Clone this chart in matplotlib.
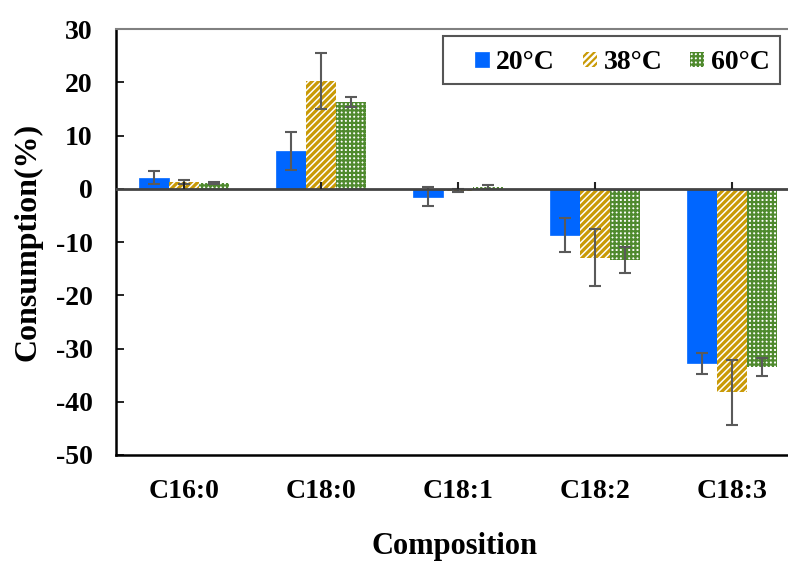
import numpy as np
import matplotlib.pyplot as plt
from matplotlib.markers import TICKUP
from matplotlib.patches import Rectangle

# -----------------------------
# Data
# -----------------------------

compositions = ["C16:0", "C18:0", "C18:1", "C18:2", "C18:3"]
temps = ["20°C", "38°C", "60°C"]

mean_20 = [2.1, 7.1, -1.45, -8.7, -32.8]
err_20 = [1.2, 3.6, 1.85, 3.2, 1.9]

mean_38 = [1.35, 20.3, -0.35, -12.9, -38.2]
err_38 = [0.4, 5.3, 0.3, 5.4, 6.1]

mean_60 = [1.05, 16.3, 0.35, -13.4, -33.5]
err_60 = [0.2, 1.0, 0.4, 2.4, 1.7]

y_ticks = [30, 20, 10, 0, -10, -20, -30, -40, -50]

# -----------------------------
# Style
# -----------------------------

plt.rcParams["font.family"] = ["Liberation Serif", "DejaVu Serif"]
plt.rcParams["font.weight"] = "bold"

BLUE = "#0066ff"
GOLD = "#c99a06"
GREEN = "#4f8a2e"
ERR = "#5a5a5a"

fig = plt.figure(figsize=(7.88, 5.61), dpi=100)
ax = fig.add_axes([0.1472, 0.189, 0.869, 0.759])

x = np.arange(len(compositions))
w = 0.219
err_kw = dict(ecolor=ERR, elinewidth=1.5, capsize=4.5, capthick=1.5)


def set_hatch_lw(bars, lw):
    for p in bars.patches:
        if hasattr(p, "set_hatch_linewidth"):
            p.set_hatch_linewidth(lw)


# -----------------------------
# Bars
# -----------------------------

b1 = ax.bar(x - w, mean_20, w, color=BLUE, edgecolor=BLUE, linewidth=0.5,
            yerr=err_20, error_kw=err_kw, label=temps[0], zorder=2)

plt.rcParams["hatch.linewidth"] = 2.3
b2 = ax.bar(x, mean_38, w, color="white", edgecolor=GOLD, hatch="/////",
            linewidth=0, yerr=err_38, error_kw=err_kw, label=temps[1], zorder=2)
set_hatch_lw(b2, 2.3)

plt.rcParams["hatch.linewidth"] = 1.6
b3 = ax.bar(x + w, mean_60, w, color="white", edgecolor=GREEN, hatch="++++",
            linewidth=0, yerr=err_60, error_kw=err_kw, label=temps[2], zorder=2)
set_hatch_lw(b3, 1.6)

# zero line with small upward ticks at each category
ax.axhline(0, color="#444444", linewidth=2, zorder=3)
ax.plot(x, np.zeros(len(x)), linestyle="none", marker=TICKUP, markersize=5,
        markeredgewidth=1.5, color="#222222", zorder=3)

# -----------------------------
# Axes
# -----------------------------

ax.set_xlim(-0.5, len(compositions) - 0.5)
ax.set_ylim(-50, 30)
ax.set_yticks(y_ticks)
ax.set_yticklabels([str(t) for t in y_ticks])
ax.set_xticks(x)
ax.set_xticklabels(compositions)

ax.tick_params(axis="y", direction="in", length=6, width=1.2, pad=17,
               labelsize=20)
ax.tick_params(axis="x", length=0, pad=17, labelsize=20)

for lbl in ax.get_xticklabels() + ax.get_yticklabels():
    lbl.set_fontweight("bold")

ax.spines["right"].set_visible(False)
ax.spines["top"].set_color("#808080")
ax.spines["top"].set_linewidth(1.5)
ax.spines["left"].set_linewidth(1.8)
ax.spines["bottom"].set_linewidth(1.8)

ax.set_ylabel("Consumption(%)", fontsize=23, fontweight="bold")
ax.yaxis.set_label_coords(-0.107, 0.5)
ax.set_xlabel("Composition", fontsize=22, fontweight="bold")
ax.xaxis.set_label_coords((455 - 116) / 685, -0.18)

# legend with a separate frame so the inner padding can differ per side
leg = ax.legend(loc="center", bbox_to_anchor=(0.74, 0.921), ncol=3,
                frameon=False, handlelength=0.5, handleheight=0.5,
                handletextpad=0.25, columnspacing=1.0, borderpad=0.0,
                prop={"weight": "bold", "size": 20})
ax.add_patch(Rectangle((0.477, 0.871), 0.492, 0.113, transform=ax.transAxes,
                       facecolor="none", edgecolor="#555555", linewidth=1.5,
                       zorder=5))

plt.savefig("out.png", dpi=100)
